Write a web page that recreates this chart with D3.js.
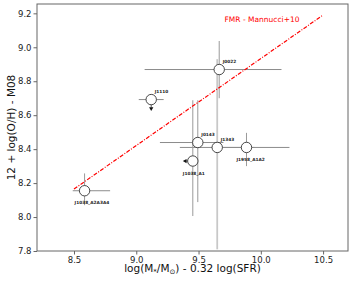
<!DOCTYPE html>
<html>
<head>
<meta charset="utf-8">
<script src="https://d3js.org/d3.v7.min.js"></script>
<style>
body { margin: 0; background: #fff; }
text { font-family: "DejaVu Sans", sans-serif; }
.axis path, .axis line { stroke: #666; }
.axis text { fill: #222; font-size: 8.5px; }
</style>
</head>
<body>
<svg width="354" height="281"></svg>
<script>
// galaxies: x = log(M*/Msun) - 0.32 log(SFR), y = 12+log(O/H)
var names = ["J1038_A2A3A4", "J1110", "J0022", "J0143", "J1343", "J1958_A1A2", "J1038_A1"];
var xVal  = [8.585, 9.12, 9.666, 9.494, 9.65, 9.885, 9.454];
var yVal  = [8.155, 8.692, 8.869, 8.439, 8.41, 8.41, 8.33];
var xLo   = [8.49, 9.02, 9.067, 9.19, 9.35, 9.6, null];
var xHi   = [8.79, 9.22, 10.166, 9.7, 9.95, 10.23, null];
var yLo   = [8.07, null, 8.70, 8.088, 7.81, 8.30, 8.006];
var yHi   = [8.257, null, 9.037, 8.688, 8.93, 8.496, 8.688];
var labelBelow = [true, false, false, false, false, true, true];
var limit = [null, "down", null, null, null, null, "left"];

// FMR relation
var fmrX = [8.5, 10.5];
var fmrY = [8.165, 9.19];

var xTicks = [8.5, 9.0, 9.5, 10.0, 10.5];
var yTicks = [7.8, 8.0, 8.2, 8.4, 8.6, 8.8, 9.0, 9.2];

var svg = d3.select("svg"),
    margin = {top: 4, right: 6, bottom: 30, left: 37},
    width = +svg.attr("width") - margin.left - margin.right,
    height = +svg.attr("height") - margin.top - margin.bottom;

var x = d3.scaleLinear().domain([8.203, 10.70]).range([0, width]);
var y = d3.scaleLinear().domain([7.8, 9.255]).range([height, 0]);

var g = svg.append("g")
    .attr("transform", "translate(" + margin.left + "," + margin.top + ")");

// error bars
names.forEach(function(n, i) {
  if (xLo[i] != null) {
    g.append("line")
      .attr("x1", x(xLo[i])).attr("x2", x(xHi[i]))
      .attr("y1", y(yVal[i])).attr("y2", y(yVal[i]))
      .attr("stroke", "#8c8c8c").attr("stroke-width", 1);
  }
  if (yLo[i] != null) {
    g.append("line")
      .attr("x1", x(xVal[i])).attr("x2", x(xVal[i]))
      .attr("y1", y(yLo[i])).attr("y2", y(yHi[i]))
      .attr("stroke", n == "J1343" ? "#c8c8c8" : "#9a9a9a")
      .attr("stroke-width", n == "J1343" ? 1.8 : 1);
  }
});

// FMR line
g.append("line")
  .attr("x1", x(fmrX[0])).attr("y1", y(fmrY[0]))
  .attr("x2", x(fmrX[1])).attr("y2", y(fmrY[1]))
  .attr("stroke", "#ff0000").attr("stroke-width", 1.2)
  .attr("stroke-dasharray", "4,1.5,1,1.5");

g.append("text")
  .attr("x", 262 - margin.left).attr("y", 22 - margin.top)
  .attr("text-anchor", "middle")
  .attr("fill", "#ff0000").style("font-size", "7.5px")
  .text("FMR - Mannucci+10");

// limit arrows
names.forEach(function(n, i) {
  var cx = x(xVal[i]), cy = y(yVal[i]);
  if (limit[i] == "down") {
    g.append("line").attr("x1", cx).attr("x2", cx).attr("y1", cy + 5).attr("y2", cy + 8)
      .attr("stroke", "#333").attr("stroke-width", 0.8);
    g.append("path").attr("d", d3.symbol(d3.symbolTriangle, 8)())
      .attr("transform", "translate(" + cx + "," + (cy + 9) + ") rotate(180)")
      .attr("fill", "#111");
  }
  if (limit[i] == "left") {
    g.append("line").attr("x1", cx - 5).attr("x2", cx - 7).attr("y1", cy).attr("y2", cy)
      .attr("stroke", "#333").attr("stroke-width", 0.8);
    g.append("path").attr("d", d3.symbol(d3.symbolTriangle, 8)())
      .attr("transform", "translate(" + (cx - 7.5) + "," + cy + ") rotate(-90)")
      .attr("fill", "#111");
  }
});

// points
g.selectAll(".pt")
  .data(names)
  .enter().append("circle")
    .attr("class", "pt")
    .attr("cx", function(d, i) { return x(xVal[i]); })
    .attr("cy", function(d, i) { return y(yVal[i]); })
    .attr("r", 5.2)
    .attr("fill", "#fff")
    .attr("stroke", "#333")
    .attr("stroke-width", 0.9);

g.selectAll(".lbl")
  .data(names)
  .enter().append("text")
    .attr("class", "lbl")
    .attr("x", function(d, i) { return x(xVal[i]) + (labelBelow[i] ? -10 : 3.5); })
    .attr("y", function(d, i) { return y(yVal[i]) + (labelBelow[i] ? 13.5 : -6.5); })
    .style("font-size", "4.3px").style("font-weight", "bold").attr("fill", "#222")
    .text(function(d) { return d; });

// axes
g.append("g")
  .attr("class", "axis")
  .attr("transform", "translate(0," + height + ")")
  .call(d3.axisBottom(x).tickValues(xTicks).tickFormat(d3.format(".1f")).tickSize(3.5).tickPadding(2));

g.append("g")
  .attr("class", "axis")
  .call(d3.axisLeft(y).tickValues(yTicks).tickFormat(d3.format(".1f")).tickSize(3.5).tickPadding(2));

g.selectAll(".axis .domain").remove();
g.append("rect")
  .attr("width", width).attr("height", height)
  .attr("fill", "none").attr("stroke", "#666").attr("stroke-width", 1);

// axis labels
var xl = svg.append("text")
  .attr("x", margin.left + width / 2).attr("y", 272)
  .attr("text-anchor", "middle").style("font-size", "10.5px").attr("fill", "#111");
xl.append("tspan").text("log(M");
xl.append("tspan").attr("dy", 2).style("font-size", "7px").text("*");
xl.append("tspan").attr("dy", -2).text("/M");
xl.append("tspan").attr("dy", 2).style("font-size", "7px").text("\u2299");
xl.append("tspan").attr("dy", -2).text(") - 0.32 log(SFR)");

svg.append("text")
  .attr("transform", "translate(15," + (margin.top + height / 2) + ") rotate(-90)")
  .attr("text-anchor", "middle").style("font-size", "10.5px").attr("fill", "#111")
  .text("12 + log(O/H) - M08");
</script>
</body>
</html>
